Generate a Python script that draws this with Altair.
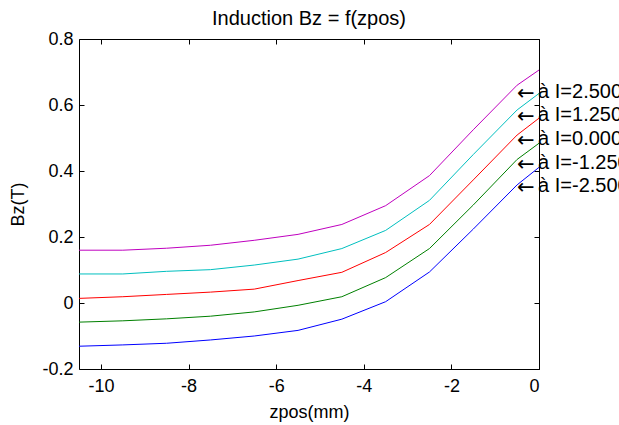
import altair as alt
import pandas as pd

# ---- data ----
zpos = [-10.5, -9.5, -8.5, -7.5, -6.5, -5.5, -4.5, -3.5, -2.5, -1.5, -0.5, 0.0]
currents = ["2.500", "1.250", "0.000", "-1.250", "-2.500"]
bz_p250 = [0.160, 0.160, 0.166, 0.175, 0.190, 0.208, 0.238, 0.295, 0.386, 0.525, 0.660, 0.706]
bz_p125 = [0.088, 0.088, 0.096, 0.101, 0.115, 0.133, 0.165, 0.220, 0.311, 0.450, 0.585, 0.635]
bz_000 = [0.014, 0.019, 0.026, 0.033, 0.042, 0.068, 0.093, 0.153, 0.238, 0.373, 0.509, 0.560]
bz_m125 = [-0.058, -0.054, -0.048, -0.040, -0.027, -0.007, 0.019, 0.077, 0.165, 0.297, 0.435, 0.484]
bz_m250 = [-0.131, -0.127, -0.122, -0.112, -0.100, -0.083, -0.049, 0.004, 0.094, 0.224, 0.358, 0.411]
series = [bz_p250, bz_p125, bz_000, bz_m125, bz_m250]
colors = ["#BF00BF", "#00BFBF", "#FF0000", "#008000", "#0000FF"]

label_x = -0.5
label_y = [0.622, 0.551, 0.480, 0.407, 0.336]
label_text = ["\u00e0 I=" + c for c in currents]
arrow_text = ["\u2190"] * len(currents)

x_ticks = [-10, -8, -6, -4, -2, 0]
y_ticks = [-0.2, 0, 0.2, 0.4, 0.6, 0.8]

rows = []
for cur, vals in zip(currents, series):
    for z, b in zip(zpos, vals):
        rows.append({"zpos": z, "bz": b, "current": cur})
df = pd.DataFrame(rows)
ann = pd.DataFrame({"x": [label_x] * len(label_y), "y": label_y,
                    "text": label_text, "arrow": arrow_text})

FONT = "Liberation Sans"
xscale = alt.Scale(domain=[-10.5, 0], nice=False, zero=False)
yscale = alt.Scale(domain=[-0.2, 0.8], nice=False, zero=False)
lab = "datum.value < 0 ? '-' + format(-datum.value, '~g') : format(datum.value, '~g')"

lines = alt.Chart(df).mark_line(strokeWidth=1).encode(
    x=alt.X("zpos:Q", scale=xscale,
            axis=alt.Axis(orient="bottom", values=x_ticks, labelExpr=lab, offset=-5,
                          tickSize=5, domain=False, grid=False, labelPadding=8,
                          title="zpos(mm)", titleY=53, titleBaseline="alphabetic")),
    y=alt.Y("bz:Q", scale=yscale,
            axis=alt.Axis(orient="left", values=y_ticks, labelExpr=lab, offset=-5,
                          tickSize=5, domain=False, grid=False, labelPadding=6,
                          title="Bz(T)", titleX=-61, titleY=165, titleAngle=-90,
                          titleAlign="center", titleBaseline="alphabetic")),
    color=alt.Color("current:N", scale=alt.Scale(domain=currents, range=colors), legend=None),
)

arrows = alt.Chart(ann).mark_text(align="left", baseline="alphabetic", fontSize=21,
                                  font="DejaVu Sans", color="black", dy=2).encode(
    x=alt.X("x:Q", scale=xscale,
            axis=alt.Axis(orient="top", values=x_ticks, labels=False, offset=-5,
                          tickSize=5, domain=False, grid=False, title=None)),
    y=alt.Y("y:Q", scale=yscale,
            axis=alt.Axis(orient="right", values=y_ticks, labels=False, offset=-5,
                          tickSize=5, domain=False, grid=False, title=None)),
    text="arrow:N",
)

texts = alt.Chart(ann).mark_text(align="left", baseline="alphabetic", fontSize=20,
                                 font=FONT, color="black", dx=21).encode(
    x=alt.X("x:Q", scale=xscale, axis=None),
    y=alt.Y("y:Q", scale=yscale, axis=None),
    text="text:N",
)

chart = alt.layer(lines, arrows, texts).resolve_axis(x="independent", y="independent").properties(
    width=460, height=330,
    autosize=alt.AutoSizeParams(type="none"),
    padding={"left": 79, "top": 39, "right": 80, "bottom": 56},
    title=alt.TitleParams("Induction Bz = f(zpos)", font=FONT, fontSize=20,
                          fontWeight="normal", anchor="middle", offset=5, dy=20,
                          baseline="alphabetic", color="black"),
    background="white",
).configure_view(stroke="black", strokeWidth=1).configure_axis(
    labelFont=FONT, labelFontSize=18, labelColor="black", tickColor="black",
    titleFont=FONT, titleFontSize=18, titleFontWeight="normal", titleColor="black",
)

chart.save("out.html", embed_options={"renderer": "svg", "actions": False})
